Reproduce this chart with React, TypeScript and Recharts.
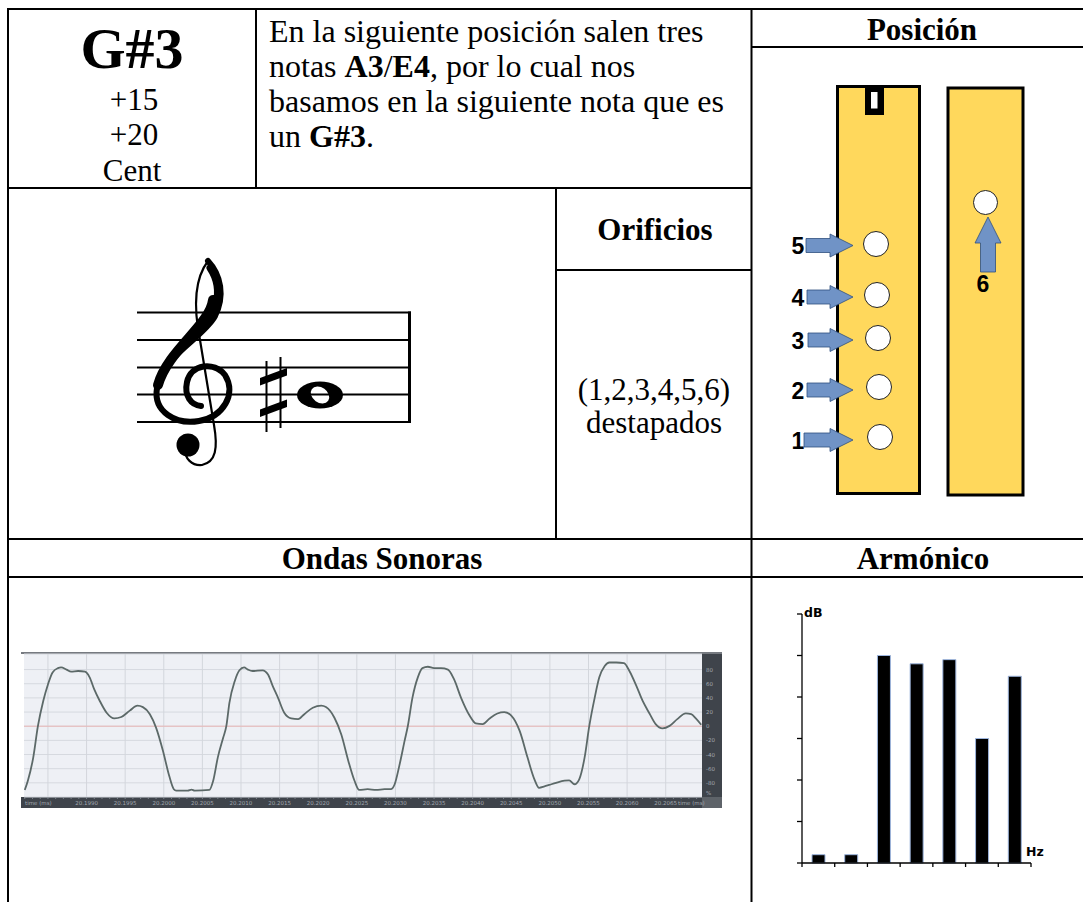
import React from 'react';
import { LineChart, Line, XAxis, YAxis, CartesianGrid, ReferenceLine, BarChart, Bar } from 'recharts';

// sound wave readings: time (ms) and amplitude (%)
const waveTime = [
  20.1982, 20.19824, 20.19831, 20.19837, 20.19844, 20.1985, 20.19856, 20.19863, 20.19867, 20.19874,
  20.1988, 20.19889, 20.19898, 20.19904, 20.1991, 20.19917, 20.19926, 20.19936, 20.19945, 20.19956,
  20.19966, 20.19973, 20.19982, 20.1999, 20.19999, 20.20007, 20.20013, 20.20016, 20.20031, 20.20036,
  20.2004, 20.20059, 20.20064, 20.2007, 20.20077, 20.20081, 20.20085, 20.20092, 20.20098, 20.20104,
  20.20109, 20.20115, 20.20128, 20.20135, 20.20141, 20.20148, 20.20156, 20.20165, 20.20174, 20.20182,
  20.20193, 20.20204, 20.2021, 20.20221, 20.2023, 20.20239, 20.20247, 20.20253, 20.20264, 20.20275,
  20.20286, 20.20294, 20.20299, 20.20305, 20.20312, 20.20316, 20.20322, 20.20329, 20.20335, 20.20342,
  20.2035, 20.20359, 20.20368, 20.20376, 20.20385, 20.20396, 20.20404, 20.20413, 20.20422, 20.20432,
  20.20441, 20.2045, 20.20461, 20.20471, 20.2048, 20.20486, 20.20493, 20.20499, 20.20508, 20.20519,
  20.20525, 20.20532, 20.20538, 20.20545, 20.20551, 20.20558, 20.20564, 20.20571, 20.20577, 20.20586,
  20.20596, 20.20603, 20.20612, 20.2062, 20.20629, 20.20637, 20.20646, 20.20655, 20.20665, 20.20676,
  20.20683, 20.20689, 20.20696,
];
const waveAmp = [
  -90, -77, -44, 0, 36, 59, 76, 82, 83, 80,
  77, 78, 77, 69, 52, 36, 19, 11, 13, 22,
  29, 27, 17, -2, -35, -70, -89, -91, -91, -89.5,
  -91, -90, -77, -44, -16, 0, 33, 64, 79, 83,
  80, 78, 79, 73, 57, 40, 19, 11, 10, 17,
  26, 29, 27, 12, -12, -49, -77, -90, -89, -90,
  -89, -89, -82, -56, -20, 0, 40, 69, 82, 84,
  82, 82, 80, 66, 40, 15, 4, 3, 11, 18,
  20, 15, -7, -44, -75, -87, -85, -83, -80, -77,
  -76.5, -82, -75, -44, 0, 40, 69, 85, 90, 90,
  89, 78, 57, 36, 18, 3, -3, 0.5, 10, 18,
  17, 11, 2,
];
const timeTicks = [
  20.1985, 20.199, 20.1995, 20.2, 20.2005, 20.201, 20.2015, 20.202, 20.2025,
  20.203, 20.2035, 20.204, 20.2045, 20.205, 20.2055, 20.206, 20.2065,
];
const ampTicks = [80, 60, 40, 20, 0, -20, -40, -60, -80];

// harmonic spectrum
const harmonics = [1, 2, 3, 4, 5, 6, 7];
const harmonicDb = [0.2, 0.2, 5, 4.8, 4.9, 3, 4.5];
const dbTicks = [0, 1, 2, 3, 4, 5, 6];

const waveData = waveTime.map((t, i) => ({ t, v: waveAmp[i] }));
const minorTicks: number[] = [];
for (let k = -3; k <= (timeTicks.length - 1) * 5 + 4; k++) {
  minorTicks.push(Math.round((timeTicks[0] + k * 0.0001) * 1e5) / 1e5);
}
const harmonicData = harmonics.map((n, i) => ({ n, db: harmonicDb[i] }));
const harmonicEdges = [harmonics[0] - 0.5, ...harmonics.map((n) => n + 0.5)];

const SERIF = "'Liberation Serif', 'Times New Roman', serif";
const SANS = "'Liberation Sans', Arial, sans-serif";

const T = ({ x, y, size = 32, bold = false, anchor = 'middle', children }: any) => (
  <text x={x} y={y} fontSize={size} fontWeight={bold ? 700 : 400} textAnchor={anchor} fontFamily={SERIF} fill="#000">
    {children}
  </text>
);

const WaveTick = ({ x, y, payload }: any) => {
  const major = timeTicks.some((m, i) => i > 0 && Math.abs(m - payload.value) < 1e-7);
  if (!major) return <g />;
  return (
    <text x={x} y={y + 4} fontSize={5.5} fill="#a3a8b0" textAnchor="middle" fontFamily="DejaVu Sans">
      {payload.value.toFixed(4)}
    </text>
  );
};

const AmpTick = ({ x, y, payload }: any) => (
  <text x={x} y={y + 2} fontSize={5.5} fill="#a3a8b0" textAnchor="start" fontFamily="DejaVu Sans">
    {payload.value}
  </text>
);

const NoLabel = () => <g />;

// arrow pointing right to a front hole
const SideArrow = ({ cy, sx, label }: any) => (
  <g>
    <polygon
      points={`${sx},${cy - 7} 830,${cy - 7} 830,${cy - 11.5} 853,${cy} 830,${cy + 11.5} 830,${cy + 7} ${sx},${cy + 7}`}
      fill="#7093c6"
      stroke="#2f4f7f"
      strokeWidth={0.8}
    />
    <text x={798} y={cy + 8.5} fontSize={23} fontWeight={700} fontFamily={SANS} textAnchor="middle">
      {label}
    </text>
  </g>
);

export default function App() {
  const holes = [
    { n: 5, cx: 876, cy: 244, sx: 806, ay: 245.5 },
    { n: 4, cx: 877, cy: 295, sx: 807, ay: 297 },
    { n: 3, cx: 878, cy: 338, sx: 808, ay: 340 },
    { n: 2, cx: 879, cy: 387, sx: 807, ay: 390 },
    { n: 1, cx: 880, cy: 437, sx: 804, ay: 440 },
  ];
  const staffY = [312.5, 340, 367.5, 394.5, 422];

  return (
    <div style={{ position: 'relative', width: 1083, height: 902, background: '#fff', overflow: 'hidden' }}>
      <style>{'body{margin:0}'}</style>
      <svg width={1083} height={902} style={{ position: 'absolute', left: 0, top: 0 }}>
        {/* table grid */}
        <g stroke="#000" strokeWidth={2}>
          <line x1={8} y1={8} x2={8} y2={902} />
          <line x1={7} y1={9} x2={1083} y2={9} />
          <line x1={256} y1={9} x2={256} y2={188} />
          <line x1={751.5} y1={9} x2={751.5} y2={902} />
          <line x1={751} y1={47} x2={1083} y2={47} />
          <line x1={8} y1={188} x2={752} y2={188} />
          <line x1={556} y1={188} x2={556} y2={539} />
          <line x1={556} y1={270} x2={752} y2={270} />
          <line x1={8} y1={539} x2={1083} y2={539} />
          <line x1={8} y1={577} x2={1083} y2={577} />
        </g>

        {/* note cell */}
        <T x={132} y={68} size={58} bold>G#3</T>
        <T x={134} y={110} size={31}>+15</T>
        <T x={134} y={145} size={31}>+20</T>
        <T x={132} y={181} size={31}>Cent</T>

        <T x={269} y={42} anchor="start">En la siguiente posición salen tres</T>
        <T x={269} y={77} anchor="start">
          notas <tspan fontWeight={700}>A3</tspan>/<tspan fontWeight={700}>E4</tspan>, por lo cual nos
        </T>
        <T x={269} y={112} anchor="start">basamos en la siguiente nota que es</T>
        <T x={269} y={147} anchor="start">
          un <tspan fontWeight={700}>G#3</tspan>.
        </T>

        <T x={922} y={40} size={31} bold>Posición</T>
        <T x={655} y={240} size={31} bold>Orificios</T>
        <T x={654} y={400} size={31}>(1,2,3,4,5,6)</T>
        <T x={654} y={433} size={31}>destapados</T>
        <T x={382} y={569} size={31} bold>Ondas Sonoras</T>
        <T x={923} y={569} size={31} bold>Armónico</T>

        {/* staff */}
        <ellipse cx={320} cy={395} rx={23} ry={13.5} fill="#000" />
        <ellipse cx={320} cy={395} rx={10} ry={7.5} fill="#fff" transform="rotate(35 320 395)" />
        <g stroke="#000" strokeWidth={2}>
          {staffY.map((y) => (
            <line key={y} x1={137} y1={y} x2={411} y2={y} />
          ))}
        </g>
        <line x1={409.5} y1={311.5} x2={409.5} y2={423} stroke="#000" strokeWidth={3} />
        {/* sharp */}
        <line x1={266.5} y1={361} x2={266.5} y2={432} stroke="#000" strokeWidth={2} />
        <line x1={280.5} y1={357} x2={280.5} y2={428} stroke="#000" strokeWidth={2} />
        <polygon points="260,378 287,368 287,375.5 260,385.5" fill="#000" />
        <polygon points="260,409.5 287,399.5 287,407 260,417" fill="#000" />
        {/* treble clef */}
        <g fill="none" stroke="#000" strokeLinecap="round">
          <path d="M208 261 C195 278 193 305 200 340 L214 425 C218 448 216 462 202 465 C192 466 184 458 186 450" strokeWidth={2.2} />
          <path d="M208 261 C221 275 225 296 215 316 C203 338 162 356 157 388 C153 412 176 425 199 421 C223 417 237 394 225 375 C214 361 191 364 187 382 C184 396 191 405 201 406" strokeWidth={6} />
          <path d="M213 300 C210 325 168 350 158 385" strokeWidth={10} />
          <path d="M210 268 C218 280 219 292 216 304" strokeWidth={7} />
        </g>
        <circle cx={188} cy={445} r={11.5} fill="#000" />

        {/* recorder position */}
        <rect x={837.5} y={86.5} width={82} height={407} fill="#ffd85c" stroke="#000" strokeWidth={3} />
        <rect x={948} y={88} width={75} height={407} fill="#ffd85c" stroke="#000" strokeWidth={3} />
        <rect x={865} y={87} width={19} height={28} fill="#000" />
        <rect x={871} y={92} width={6.5} height={16.5} fill="#fff" />
        {holes.map((h) => (
          <g key={h.n}>
            <circle cx={h.cx} cy={h.cy} r={12.5} fill="#fff" stroke="#222" strokeWidth={1} />
            <SideArrow cy={h.ay} sx={h.sx} label={h.n} />
          </g>
        ))}
        <circle cx={985.5} cy={202.5} r={12} fill="#fff" stroke="#222" strokeWidth={1} />
        <polygon
          points="980.5,272 980.5,243 975,243 988,217 1001,243 995.5,243 995.5,272"
          fill="#7093c6"
          stroke="#2f4f7f"
          strokeWidth={0.8}
        />
        <text x={983} y={292} fontSize={23} fontWeight={700} fontFamily={SANS} textAnchor="middle">6</text>

        {/* wave frame */}
        <rect x={21} y={652} width={701} height={2} fill="#767a80" />
        <rect x={21} y={797} width={681} height={11} fill="#3f444b" />
        <rect x={702} y={654} width={20} height={143} fill="#3f444b" />
        <rect x={702} y={797} width={20} height={11} fill="#5e6369" />
        <text x={25} y={804.5} fontSize={5.5} fill="#a3a8b0" fontFamily="DejaVu Sans">time (ms)</text>
        <text x={678} y={804.5} fontSize={5.5} fill="#a3a8b0" fontFamily="DejaVu Sans">time (ms)</text>
        <text x={706} y={795} fontSize={5.5} fill="#a3a8b0" fontFamily="DejaVu Sans">%</text>

        {/* harmonic labels */}
        <text x={804} y={617} fontSize={12.5} fontWeight={700} fontFamily="'DejaVu Sans', sans-serif">dB</text>
        <text x={1026} y={856} fontSize={12.5} fontWeight={700} fontFamily="'DejaVu Sans', sans-serif">Hz</text>
      </svg>

      <div style={{ position: 'absolute', left: 21, top: 650 }}>
        <LineChart width={701} height={158} data={waveData} margin={{ top: 4, right: 0, bottom: 0, left: 3 }}>
          <CartesianGrid fill="#eef0f5" stroke="#d6d9df" vertical={false} />
          {timeTicks.map((t) => (
            <ReferenceLine key={t} x={t} stroke="#d3d6dc" strokeWidth={1} />
          ))}
          <ReferenceLine y={0} stroke="#eab7b7" strokeWidth={1} />
          <XAxis
            type="number"
            dataKey="t"
            domain={[20.19819, 20.20697]}
            ticks={minorTicks}
            interval={0}
            allowDataOverflow
            height={11}
            axisLine={false}
            tickLine={{ stroke: '#8d939b', strokeWidth: 0.8 }}
            tickSize={2}
            tickMargin={2}
            tick={<WaveTick />}
          />
          <YAxis
            orientation="right"
            domain={[-100, 102]}
            ticks={ampTicks}
            interval={0}
            allowDataOverflow
            width={20}
            axisLine={false}
            tickLine={false}
            tickSize={2}
            tickMargin={2}
            tick={<AmpTick />}
          />
          <Line type="monotone" dataKey="v" stroke="#5c6968" strokeWidth={1.8} dot={false} isAnimationActive={false} />
        </LineChart>
      </div>

      <div style={{ position: 'absolute', left: 760, top: 600 }}>
        <BarChart width={300} height={275} data={harmonicData} margin={{ top: 14, right: 29, bottom: 2, left: 32 }}>
          <XAxis
            type="number"
            dataKey="n"
            domain={[harmonicEdges[0], harmonicEdges[harmonicEdges.length - 1]]}
            ticks={harmonicEdges}
            interval={0}
            height={10}
            tick={<NoLabel />}
            tickSize={4}
            axisLine={{ stroke: '#000', strokeWidth: 1.3 }}
            tickLine={{ stroke: '#000', strokeWidth: 1.3 }}
          />
          <YAxis
            domain={[0, 6]}
            ticks={dbTicks}
            interval={0}
            width={10}
            tick={<NoLabel />}
            tickSize={5}
            axisLine={{ stroke: '#000', strokeWidth: 1.3 }}
            tickLine={{ stroke: '#000', strokeWidth: 1.3 }}
          />
          <Bar dataKey="db" fill="#000" stroke="#9db5dd" strokeWidth={1} barSize={13} isAnimationActive={false} />
        </BarChart>
      </div>
    </div>
  );
}
